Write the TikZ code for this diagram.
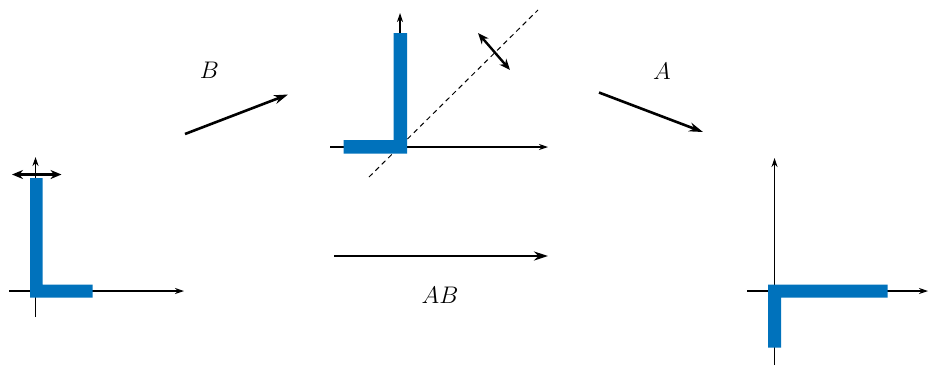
\documentclass[tikz,border=0pt]{standalone}
\usepackage{tikz}
\usetikzlibrary{arrows.meta}
\definecolor{Lblue}{HTML}{0072BC}
\tikzset{
  axis/.style={-{Stealth[length=4.5pt,width=3pt]},line width=0.55pt},
  map/.style={-{Stealth[length=7pt,width=4.5pt]},line width=1.3pt},
  flip/.style={{Stealth[length=5.5pt,width=4.5pt]}-{Stealth[length=5.5pt,width=4.5pt]},line width=1.2pt},
  mirror/.style={line width=0.5pt,dash pattern=on 2.5pt off 2pt},
  bar/.style={fill=Lblue},
  lbl/.style={inner sep=0pt,font=\large},
}
\begin{document}
\begin{tikzpicture}[x=0.5pt,y=-0.5pt]
\useasboundingbox (0,0) rectangle (935,366);

% original L
\draw[axis] (35.5,317) -- (35.5,157);
\draw[axis] (9,291) -- (184,291);
\fill[bar] (30,297.5) -- (30,178) -- (42.5,178) -- (42.5,284.5)
  -- (92.5,284.5) -- (92.5,297.5) -- cycle;
\coordinate (f1a) at (12,174.5);
\coordinate (f1b) at (61.5,174.5);
\draw[flip] (f1a) -- (f1b);

% after B
\draw[axis] (330,147) -- (548,147);
\draw[axis] (400,147) -- (400,13);
\coordinate (m0) at (369,177);
\coordinate (m1) at (538,10);
\draw[mirror] (m0) -- (m1);
\fill[bar] (407,153.5) -- (407,33) -- (393.5,33) -- (393.5,140)
  -- (343.5,140) -- (343.5,153.5) -- cycle;
\coordinate (f2a) at (478,33);
\coordinate (f2b) at (510,70);
\draw[flip] (f2a) -- (f2b);

% after A
\draw[axis] (747,291) -- (928,291);
\draw[axis] (774.5,365) -- (774.5,158);
\fill[bar] (768,347.5) -- (768,284.5) -- (887.5,284.5) -- (887.5,297.5)
  -- (781,297.5) -- (781,347.5) -- cycle;

% the maps
\coordinate (b0) at (185,134);
\coordinate (b1) at (288,94.5);
\coordinate (a0) at (599,92.5);
\coordinate (a1) at (703,132);
\coordinate (ab0) at (334,256);
\coordinate (ab1) at (548,256);
\draw[map] (b0) -- (b1);
\draw[map] (a0) -- (a1);
\draw[map] (ab0) -- (ab1);
\node[lbl] (lblB) at (209.5,70) {$B$};
\node[lbl] (lblA) at (662,71.5) {$A$};
\node[lbl] (lblAB) at (440,295) {$AB$};
\end{tikzpicture}
\end{document}
